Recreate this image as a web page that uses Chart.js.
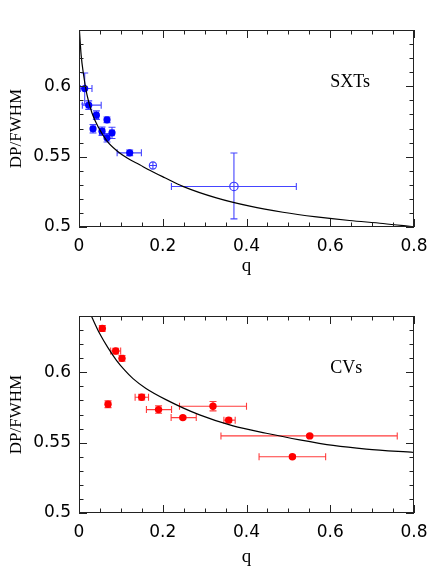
<!DOCTYPE html>
<html>
<head>
<meta charset="utf-8">
<script src="https://cdn.jsdelivr.net/npm/chart.js@4.4.1/dist/chart.umd.min.js"></script>
<style>
  html, body { margin: 0; padding: 0; background: #fff; }
  .box { position: absolute; left: 0; width: 437px; height: 291px; }
  #topBox { top: 0; }
  #botBox { top: 291px; }
</style>
</head>
<body>
<div class="box" id="topBox"><canvas id="sxtChart" width="437" height="291"></canvas></div>
<div class="box" id="botBox"><canvas id="cvChart" width="437" height="291"></canvas></div>
<script>
// --- SXTs (top panel) ---
// model curve
const sxtCurveQ = [0.001, 0.005, 0.011, 0.019, 0.031, 0.047, 0.067, 0.091, 0.115, 0.145, 0.169, 0.205, 0.248, 0.328, 0.408, 0.487, 0.567, 0.646, 0.726, 0.800];
const sxtCurveV = [0.640, 0.6225, 0.608, 0.594, 0.581, 0.5705, 0.561, 0.554, 0.549, 0.5442, 0.5403, 0.535, 0.5289, 0.5207, 0.5148, 0.5105, 0.5072, 0.5046, 0.5025, 0.5001];

// filled points with error bounds
const sxtQ    = [0.0136, 0.0232, 0.0415, 0.0335, 0.0669, 0.0550, 0.0788, 0.0669, 0.121];
const sxtV    = [0.5984, 0.5866, 0.5795, 0.5698, 0.5762, 0.5681, 0.5669, 0.5634, 0.5527];
const sxtQLo  = [0.003, 0.008, 0.0365, 0.0285, 0.0629, 0.049, 0.0738, 0.0639, 0.091];
const sxtQHi  = [0.031, 0.053, 0.0465, 0.0385, 0.0709, 0.061, 0.0838, 0.0699, 0.149];
const sxtVLo  = [0.5874, 0.5836, 0.5765, 0.5668, 0.5742, 0.5651, 0.5629, 0.5604, 0.5507];
const sxtVHi  = [0.6094, 0.5896, 0.5825, 0.5728, 0.5782, 0.5711, 0.5709, 0.5664, 0.5547];

// crossed open circle and big open circle
const sxtCrossQ = [0.1765];
const sxtCrossV = [0.5437];
const sxtOpenQ = [0.370];
const sxtOpenV = [0.5288];
const sxtOpenQLo = [0.2207];
const sxtOpenQHi = [0.519];
const sxtOpenVLo = [0.5058];
const sxtOpenVHi = [0.5526];

// --- CVs (bottom panel) ---
const cvCurveQ = [0.0295, 0.049, 0.069, 0.089, 0.109, 0.129, 0.160, 0.2086, 0.288, 0.368, 0.447, 0.527, 0.607, 0.686, 0.800];
const cvCurveV = [0.640, 0.6277, 0.6175, 0.6087, 0.6015, 0.5955, 0.5885, 0.5804, 0.5697, 0.5619, 0.5567, 0.552, 0.548, 0.5454, 0.543];

const cvQ   = [0.0557, 0.0876, 0.1027, 0.0693, 0.1497, 0.190, 0.248, 0.320, 0.3575, 0.551, 0.5096];
const cvV   = [0.6312, 0.6151, 0.6099, 0.5773, 0.5823, 0.5735, 0.5678, 0.5759, 0.5660, 0.5548, 0.5400];
const cvQLo = [0.0507, 0.0756, 0.0987, 0.0653, 0.134, 0.161, 0.220, 0.240, 0.346, 0.339, 0.430];
const cvQHi = [0.0607, 0.0995, 0.1067, 0.0733, 0.166, 0.221, 0.280, 0.400, 0.373, 0.760, 0.589];
const cvVLo = [0.6292, 0.6131, 0.6079, 0.5749, 0.5803, 0.5709, 0.5668, 0.5726, 0.5645, 0.5538, 0.5390];
const cvVHi = [0.6332, 0.6171, 0.6119, 0.5797, 0.5843, 0.5761, 0.5688, 0.5792, 0.5675, 0.5558, 0.5410];

// axis ticks
const qMajor = [0, 0.2, 0.4, 0.6, 0.8];
const vMajor = [0.5, 0.55, 0.6];

const pts = (qs, vs) => qs.map((q, i) => ({ x: q, y: vs[i] }));
const bounds = (lo, hi, vlo, vhi) => lo.map((l, i) => [l, hi[i], vlo[i], vhi[i]]);

const frameTicks = {
  id: 'frameTicks',
  beforeDatasetsDraw(chart) {
    const { ctx, scales: { x, y } } = chart;
    ctx.save();
    chart.data.datasets.forEach(ds => {
      if (!ds.err) return;
      ctx.strokeStyle = ds.errColor;
      ctx.lineWidth = 1.1;
      ds.err.forEach((e, i) => {
        const p = ds.data[i];
        const px = x.getPixelForValue(p.x), py = y.getPixelForValue(p.y);
        const x0 = x.getPixelForValue(e[0]), x1 = x.getPixelForValue(e[1]);
        const y0 = y.getPixelForValue(e[2]), y1 = y.getPixelForValue(e[3]);
        const c = 3.5;
        ctx.beginPath();
        ctx.moveTo(x0, py); ctx.lineTo(x1, py);
        ctx.moveTo(px, y0); ctx.lineTo(px, y1);
        ctx.moveTo(x0, py - c); ctx.lineTo(x0, py + c);
        ctx.moveTo(x1, py - c); ctx.lineTo(x1, py + c);
        ctx.moveTo(px - c, y0); ctx.lineTo(px + c, y0);
        ctx.moveTo(px - c, y1); ctx.lineTo(px + c, y1);
        ctx.stroke();
      });
    });
    ctx.restore();
  },
  afterDraw(chart, args, opts) {
    const { ctx, chartArea: a, scales: { x, y } } = chart;
    ctx.save();
    ctx.strokeStyle = '#222';
    ctx.lineWidth = 1;
    ctx.strokeRect(a.left + 0.5, a.top + 0.5, a.right - a.left - 1, a.bottom - a.top - 1);
    ctx.beginPath();
    // x ticks every 0.05, long at 0.2
    for (let k = 0; k <= 16; k++) {
      const v = k * 0.05;
      const px = Math.round(x.getPixelForValue(v)) + 0.5;
      const len = qMajor.some(m => Math.abs(m - v) < 1e-6) ? 8 : 4.5;
      ctx.moveTo(px, a.bottom); ctx.lineTo(px, a.bottom - len);
      ctx.moveTo(px, a.top); ctx.lineTo(px, a.top + len);
    }
    // y ticks every 0.01, long at 0.05
    for (let k = 50; k <= 64; k++) {
      const v = k / 100;
      const py = Math.round(y.getPixelForValue(v)) + 0.5;
      const len = vMajor.some(m => Math.abs(m - v) < 1e-6) ? 8 : 4.5;
      ctx.moveTo(a.left, py); ctx.lineTo(a.left + len, py);
      ctx.moveTo(a.right, py); ctx.lineTo(a.right - len, py);
    }
    ctx.stroke();
    // panel label
    ctx.fillStyle = '#000';
    ctx.font = '18px "Liberation Serif"';
    ctx.textBaseline = 'alphabetic';
    ctx.textAlign = 'left';
    ctx.fillText(opts.label, x.getPixelForValue(0.6), y.getPixelForValue(0.5995));
    ctx.restore();
  }
};

function makeChart(id, datasets, label, topPad, xHeight) {
  return new Chart(document.getElementById(id), {
    type: 'scatter',
    data: { datasets },
    options: {
      responsive: false,
      animation: false,
      layout: { padding: { top: topPad, right: 23, left: 0, bottom: 0 } },
      plugins: { legend: { display: false }, tooltip: { enabled: false }, frameTicks: { label } },
      scales: {
        x: {
          type: 'linear', min: 0, max: 0.8,
          afterFit: s => { s.height = xHeight; },
          grid: { display: false, drawTicks: false },
          border: { display: false },
          ticks: {
            stepSize: 0.05, autoSkip: false, maxRotation: 0, padding: 9,
            color: '#000', font: { family: 'DejaVu Sans', size: 17 },
            callback: v => {
              const k = Math.round(v * 100);
              return k % 20 === 0 ? String(k / 100) : '';
            }
          },
          title: { display: true, text: 'q', color: '#000',
                   font: { family: 'Liberation Serif', size: 19 }, padding: { top: 0, bottom: 14 } }
        },
        y: {
          type: 'linear', min: 0.5, max: 0.64,
          afterFit: s => { s.width = 79; },
          grid: { display: false, drawTicks: false },
          border: { display: false },
          ticks: {
            stepSize: 0.01, autoSkip: false, padding: 8,
            color: '#000', font: { family: 'DejaVu Sans', size: 17 },
            callback: v => {
              const k = Math.round(v * 100);
              return k % 5 === 0 ? String(k / 100) : '';
            }
          },
          title: { display: true, text: 'DP/FWHM', color: '#000',
                   font: { family: 'Liberation Serif', size: 17 }, padding: { top: 6, bottom: 0 } }
        }
      }
    },
    plugins: [frameTicks]
  });
}

const curveStyle = { type: 'line', borderColor: '#000', borderWidth: 1.2, pointRadius: 0,
                     cubicInterpolationMode: 'monotone', fill: false };

makeChart('sxtChart', [
  { ...curveStyle, data: pts(sxtCurveQ, sxtCurveV) },
  { data: pts(sxtQ, sxtV), err: bounds(sxtQLo, sxtQHi, sxtVLo, sxtVHi), errColor: '#4545ff',
    pointRadius: 3.6, backgroundColor: '#0000ff', borderWidth: 0 },
  { data: pts(sxtOpenQ, sxtOpenV), err: bounds(sxtOpenQLo, sxtOpenQHi, sxtOpenVLo, sxtOpenVHi), errColor: '#4545ff',
    pointRadius: 4.2, backgroundColor: 'rgba(0,0,0,0)', borderColor: '#3a3aff', borderWidth: 1.2 },
  { data: pts(sxtCrossQ, sxtCrossV), pointRadius: 3.6, backgroundColor: 'rgba(0,0,0,0)',
    borderColor: '#3a3aff', borderWidth: 1.1 },
  { data: pts(sxtCrossQ, sxtCrossV), pointStyle: 'cross', pointRadius: 3.6, borderColor: '#3a3aff', borderWidth: 1.1 }
], 'SXTs', 30, 64);

makeChart('cvChart', [
  { ...curveStyle, data: pts(cvCurveQ, cvCurveV) },
  { data: pts(cvQ, cvV), err: bounds(cvQLo, cvQHi, cvVLo, cvVHi), errColor: '#ff3c3c',
    pointRadius: 3.7, backgroundColor: '#ff0000', borderWidth: 0 }
], 'CVs', 25, 69);
</script>
</body>
</html>
